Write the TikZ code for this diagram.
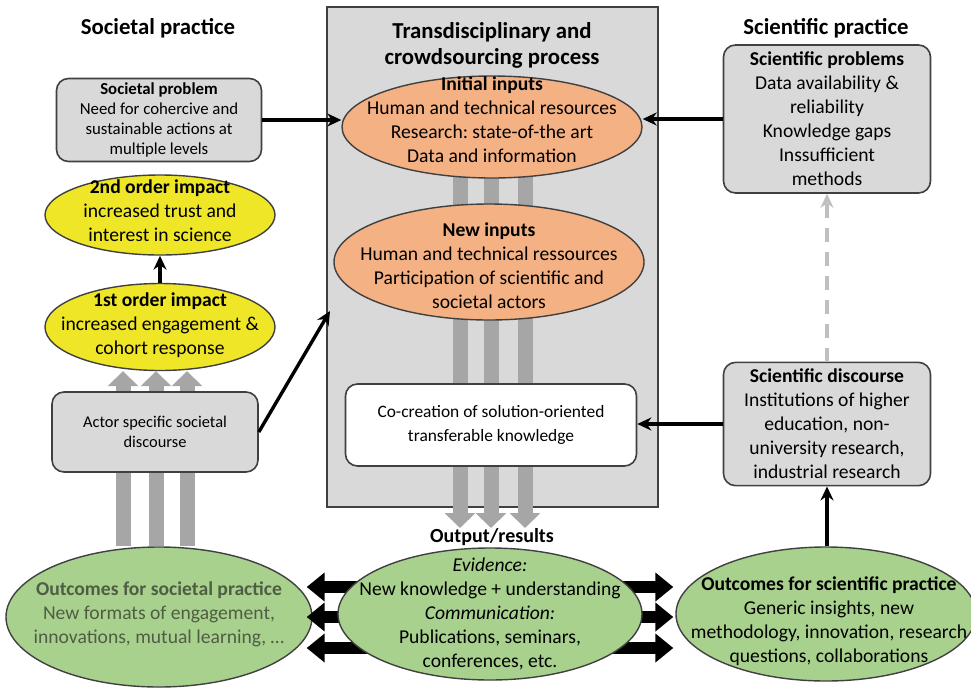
\documentclass[tikz,border=0pt]{standalone}
\usepackage{fontspec}
\setmainfont{Carlito}
\usetikzlibrary{arrows.meta,shapes.geometric}
\frenchspacing

\definecolor{boxgrey}{HTML}{D9D9D9}
\definecolor{edgegrey}{HTML}{404040}
\definecolor{bargrey}{HTML}{A6A6A6}
\definecolor{dashgrey}{HTML}{BFBFBF}
\definecolor{inorange}{HTML}{F4B183}
\definecolor{impyellow}{HTML}{EFE627}
\definecolor{outgreen}{HTML}{A9D18E}
\definecolor{soctext}{HTML}{4F5D45}

\newcommand\bodysize{\fontsize{9.8}{12}\selectfont}
\newcommand\smallsize{\fontsize{8.2}{10}\selectfont}
\newcommand\titlesize{\fontsize{11.4}{13}\selectfont}

\pgfdeclarelayer{bg}
\pgfdeclarelayer{mid}
\pgfsetlayers{bg,mid,main}

\begin{document}
\begin{tikzpicture}[x=0.5pt,y=-0.5pt,
  box/.style={draw=edgegrey,fill=boxgrey,rounded corners=6pt,line width=0.8pt,align=center,font=\bodysize},
  blob/.style={ellipse,draw=edgegrey,line width=0.7pt,inner sep=0pt},
  txt/.style={align=center,inner sep=0pt,font=\bodysize},
  arr/.style={-{Stealth[length=7pt,width=6.5pt]},line width=1.7pt},
  gbar/.style={draw=bargrey,line width=7.5pt,-{Triangle[width=15pt,length=7.5pt]}},
  barr/.style={line width=6pt,-{Triangle[width=14pt,length=9pt]}}]

\useasboundingbox (0,0) rectangle (971,687);
\clip (0,0) rectangle (971,687);

% headings
\node[txt,font=\titlesize\bfseries] (soctitle) at (158,28) {Societal practice};
\node[txt,font=\titlesize\bfseries] (scititle) at (826,28) {Scientific practice};

% transdisciplinary process
\begin{pgfonlayer}{bg}
\node[draw=edgegrey,fill=boxgrey,line width=0.8pt,minimum width=165.5pt,minimum height=250pt,inner sep=0pt] (process) at (492.5,257) {};
\end{pgfonlayer}
\node[txt,font=\titlesize\bfseries] (proctitle) at (492,45) {Transdisciplinary and\\crowdsourcing process};

\node[blob,fill=inorange,minimum width=150pt,minimum height=51pt] (init) at (492,127) {};
\node[txt] (init-t) at ([yshift=3.5pt]init.center) {\textbf{Initial inputs}\\Human and technical resources\\Research: state-of-the art\\Data and information};

\node[blob,fill=inorange,minimum width=155pt,minimum height=58pt] (new) at (489,262) {};
\node[txt] (new-t) at ([yshift=-2pt]new.center) {\textbf{New inputs}\\Human and technical ressources\\Participation of scientific and\\societal actors};

\node[box,fill=white,minimum width=145.5pt,minimum height=41pt,font=\fontsize{8.7}{12}\selectfont] (cocreate) at (491,425) {Co-creation of solution-oriented\\transferable knowledge};

\node[txt,font=\fontsize{10}{12}\selectfont\bfseries] (outlab) at (492,537) {Output/results};

% outcomes
\coordinate (evidc) at (490,614);
\node[blob,fill=outgreen,minimum width=153pt,minimum height=70pt] (socout) at (159,617) {};
\node[txt,text=soctext] (socout-t) at ([yshift=1.5pt]socout.center) {\textbf{Outcomes for societal practice}\\New formats of engagement,\\innovations, mutual learning, …};

\node[blob,fill=outgreen,minimum width=150pt,minimum height=67pt] (sciout) at (826,614) {};
\node[txt] (sciout-t) at ([xshift=1.5pt,yshift=-3.5pt]sciout.center) {\textbf{Outcomes for scientific practice}\\Generic insights, new\\methodology, innovation, research\\questions, collaborations};

\foreach \y in {587,617,648}{
  \draw[barr,shorten >=-3pt] (evidc |- 0,\y) -- (socout.east |- 0,\y);
  \draw[barr,shorten >=1pt] (evidc |- 0,\y) -- (sciout.west |- 0,\y);
}

\node[blob,fill=outgreen,minimum width=152pt,minimum height=66pt] (evid) at (evidc) {};
\node[txt] (evid-t) at (evid.center) {\textit{Evidence:}\\New knowledge + understanding\\\textit{Communication:}\\Publications, seminars,\\conferences, etc.};

% scientific practice
\node[box,minimum width=103.5pt,minimum height=74pt] (sciprob) at (827,119) {\textbf{Scientific problems}\\Data availability \&\\reliability\\Knowledge gaps\\Inssufficient\\methods};
\node[box,minimum width=103.5pt,minimum height=61.5pt] (scidisc) at (827,424) {\textbf{Scientific discourse}\\Institutions of higher\\education, non-\\university research,\\industrial research};

% societal practice
\node[box,minimum width=102.5pt,minimum height=41.5pt,inner sep=1pt,font=\fontsize{8.4}{10}\selectfont] (socprob) at (159,120) {\textbf{Societal problem}\\Need for cohercive and\\sustainable actions at\\multiple levels};

\node[blob,fill=impyellow,minimum width=115pt,minimum height=40pt] (second) at (160,215) {};
\node[txt] (second-t) at ([yshift=2pt]second.center) {\textbf{2nd order impact}\\increased trust and\\interest in science};

\node[blob,fill=impyellow,minimum width=115pt,minimum height=43.5pt] (first) at (160,327) {};
\node[txt] (first-t) at ([yshift=1pt]first.center) {\textbf{1st order impact}\\increased engagement \&\\cohort response};

\node[box,minimum width=103pt,minimum height=40pt,font=\smallsize] (actor) at (155,432) {Actor specific societal\\discourse};

% connectors
\draw[arr] (socprob.east) -- (socprob.east -| init.west);
\draw[arr] (sciprob.west) -- (sciprob.west -| init.east);
\draw[arr] (scidisc.west) -- (scidisc.west -| cocreate.east);
\draw[arr] (scidisc.south |- sciout.north) -- (scidisc.south);
\draw[arr] (first.north) -- (second.south);
\coordinate (newin) at (330,311);
\draw[arr] (actor.east) -- (newin);
\draw[arr,draw=dashgrey,line width=2pt,dash pattern=on 7pt off 5pt] (scidisc.north) -- (sciprob.south);

\begin{pgfonlayer}{mid}
\foreach \x in {460,491,525} \draw[gbar] (\x,0 |- init.center) -- (\x,0 |- outlab.north);
\foreach \x in {123,156,187} \draw[gbar] (\x,0 |- socout.north) -- (\x,0 |- first.south);
\end{pgfonlayer}
\end{tikzpicture}
\end{document}
